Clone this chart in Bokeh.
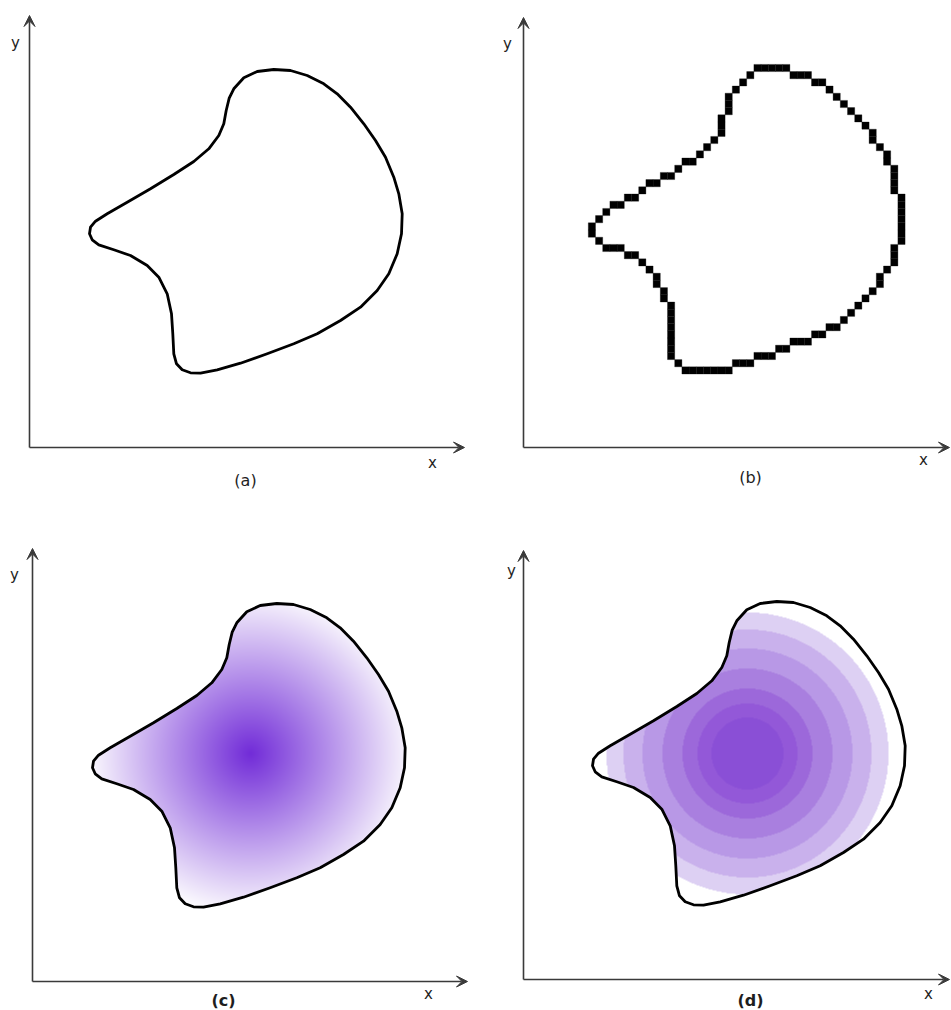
import numpy as np
from bokeh.plotting import figure
from bokeh.layouts import gridplot
from bokeh.models import Range1d, Arrow, VeeHead, Label
from bokeh.embed import file_html
from bokeh.resources import INLINE

# ---------------- data ----------------
# closed outline of the shape, in axis units (origin = where the axes cross)
shape_x = [204.3, 214.3, 227.7, 244.3, 261.0, 277.7, 294.3, 307.7, 321.0, 334.3,
           346.0, 356.0, 364.3, 369.3, 372.7, 372.0, 367.7, 359.3, 347.7, 331.0,
           311.0, 287.7, 264.3, 237.7, 211.0, 187.7, 171.0, 161.0, 152.7, 147.0,
           144.3, 143.3, 142.0, 137.7, 129.3, 117.7, 101.0, 84.3, 69.3, 62.7,
           60.0, 61.0, 66.0, 77.7, 97.7, 121.0, 144.3, 164.3, 179.3, 189.3,
           194.3, 196.7, 199.7]
shape_y = [358.7, 369.7, 376.0, 378.0, 377.0, 372.0, 363.7, 353.7, 340.3, 323.7,
           307.0, 290.3, 270.3, 253.7, 233.7, 213.7, 193.7, 173.7, 157.0, 140.3,
           127.0, 113.7, 103.7, 93.7, 84.3, 77.7, 74.3, 74.7, 77.7, 83.7,
           93.7, 113.7, 133.7, 153.7, 170.3, 182.0, 192.0, 197.7, 202.7, 207.7,
           213.7, 220.3, 226.3, 233.7, 245.3, 258.7, 273.0, 286.0, 298.7, 312.0,
           323.7, 337.0, 349.3]

panel_labels = ["(a)", "(b)", "(c)", "(d)"]
axis_names = ["x", "y"]

# (b) raster cell size
pixel_size = 7.2
# (c) radial gradient
gradient_center = (218, 228)
gradient_radius = 165
gradient_rgb = (114, 44, 216)
# (d) concentric bands
ring_center = (215, 226)
ring_edges = [36, 50, 65, 85, 105, 124, 141]
ring_colors = ["#8a4fd6", "#9358d8", "#9c68da", "#a97fdf", "#b898e6", "#c9b1ec", "#ddd0f3"]

# ---------------- layout ----------------
W = [475, 475]
H = [505, 504]
panels = [
    dict(xr=(-29, 446), yr=(-58, 447), shift=0, ytip=432, xtip=435,
         ylab=(-14, 405), xlab=(403, -15), plab=(216, -33), bold=False, kind="a"),
    dict(xr=(-48, 427), yr=(-58, 447), shift=5, ytip=430, xtip=426,
         ylab=(-16, 404), xlab=(400, -12), plab=(227, -30), bold=False, kind="b"),
    dict(xr=(-32, 443), yr=(-28, 476), shift=0, ytip=433, xtip=435,
         ylab=(-18, 407), xlab=(396, -12), plab=(191, -19), bold=True, kind="c"),
    dict(xr=(-48, 427), yr=(-30, 474), shift=9, ytip=429, xtip=426,
         ylab=(-12, 409), xlab=(405, -14), plab=(227, -21), bold=True, kind="d"),
]

FONT = "DejaVu Sans"
AXIS_COLOR = "#3a3a3a"
TEXT_COLOR = "#1e1e1e"


def inside_polygon(px, py, vx, vy):
    res = np.zeros(px.shape, dtype=bool)
    n = len(vx)
    j = n - 1
    for i in range(n):
        xi, yi, xj, yj = vx[i], vy[i], vx[j], vy[j]
        cond = ((yi > py) != (yj > py)) & (px < (xj - xi) * (py - yi) / (yj - yi + 1e-12) + xi)
        res ^= cond
        j = i
    return res


def hex_rgb(h):
    h = h.lstrip("#")
    return tuple(int(h[k:k + 2], 16) for k in (0, 2, 4))


def raster_cells(vx, vy, c, gy0):
    xs = list(vx) + [vx[0]]
    ys = list(vy) + [vy[0]]
    seq = []
    for k in range(len(xs) - 1):
        n = max(2, int(np.hypot(xs[k + 1] - xs[k], ys[k + 1] - ys[k]) / 0.4))
        for t in np.linspace(0, 1, n, endpoint=False):
            x = xs[k] + (xs[k + 1] - xs[k]) * t
            y = ys[k] + (ys[k + 1] - ys[k]) * t
            cell = (int(np.floor(x / c)), int(np.floor((y - gy0) / c)))
            if not seq or seq[-1] != cell:
                seq.append(cell)
    out = []
    for cell in seq:
        out.append(cell)
        while len(out) >= 3 and max(abs(out[-3][0] - out[-1][0]), abs(out[-3][1] - out[-1][1])) <= 1:
            del out[-2]
    return sorted(set(out))


figs = []
for idx, cfg in enumerate(panels):
    p = figure(width=W[idx % 2], height=H[idx // 2],
               x_range=Range1d(*cfg["xr"]), y_range=Range1d(*cfg["yr"]),
               output_backend="svg", toolbar_location=None,
               x_axis_location=None, y_axis_location=None,
               min_border=0, outline_line_color=None,
               background_fill_color="white", border_fill_color="white")
    p.grid.visible = False

    sx = [v + cfg["shift"] for v in shape_x]
    sy = list(shape_y)

    if cfg["kind"] in ("c", "d"):
        x0, y0, nx, ny = 40, 55, 350, 340
        gx, gy = np.meshgrid(np.arange(nx) + x0 + 0.5, np.arange(ny) + y0 + 0.5)
        mask = inside_polygon(gx, gy, np.array(sx), np.array(sy))
        img = np.zeros((ny, nx, 4), dtype=np.uint8)
        if cfg["kind"] == "c":
            cx, cy = gradient_center[0] + cfg["shift"], gradient_center[1]
            t = np.clip(np.hypot(gx - cx, gy - cy) / gradient_radius, 0, 1)
            for ch in range(3):
                img[..., ch] = (gradient_rgb[ch] * (1 - t) + 255 * t).astype(np.uint8)
            img[..., 3] = np.where(mask, 255, 0)
        else:
            cx, cy = ring_center[0] + cfg["shift"], ring_center[1]
            d = np.hypot(gx - cx, gy - cy)
            band = np.searchsorted(np.array(ring_edges), d)
            for b, col in enumerate(ring_colors):
                r, g, bl = hex_rgb(col)
                sel = band == b
                img[sel, 0] = r
                img[sel, 1] = g
                img[sel, 2] = bl
            img[..., 3] = np.where(mask & (d <= ring_edges[-1]), 255, 0)
        p.image_rgba(image=[img.view(dtype=np.uint32).reshape((ny, nx))],
                     x=x0, y=y0, dw=nx, dh=ny)

    if cfg["kind"] == "b":
        gy0 = 1.5
        cells = raster_cells(sx, sy, pixel_size, gy0)
        p.quad(left=[i * pixel_size for i, j in cells],
               right=[(i + 1) * pixel_size for i, j in cells],
               bottom=[j * pixel_size + gy0 for i, j in cells],
               top=[(j + 1) * pixel_size + gy0 for i, j in cells],
               fill_color="black", line_color="black", line_width=0.3)
    else:
        p.patch(sx + [sx[0]], sy + [sy[0]], fill_color=None, line_color="black",
                line_width=2.8, line_join="round")

    # axes with arrow heads
    p.add_layout(Arrow(x_start=0, y_start=0, x_end=0, y_end=cfg["ytip"],
                       line_color=AXIS_COLOR, line_width=1.6,
                       end=VeeHead(size=11, fill_color=AXIS_COLOR, line_color=AXIS_COLOR)))
    p.add_layout(Arrow(x_start=0, y_start=0, x_end=cfg["xtip"], y_end=0,
                       line_color=AXIS_COLOR, line_width=1.6,
                       end=VeeHead(size=11, fill_color=AXIS_COLOR, line_color=AXIS_COLOR)))

    for txt, pos, size, bold in [(axis_names[1], cfg["ylab"], "15px", False),
                                 (axis_names[0], cfg["xlab"], "15px", False),
                                 (panel_labels[idx], cfg["plab"], "16px", cfg["bold"])]:
        p.add_layout(Label(x=pos[0], y=pos[1], text=txt, text_align="center",
                           text_baseline="middle", text_font=FONT, text_font_size=size,
                           text_color=TEXT_COLOR,
                           text_font_style="bold" if bold else "normal"))
    figs.append(p)

grid = gridplot([[figs[0], figs[1]], [figs[2], figs[3]]], toolbar_location=None)

with open("out.html", "w") as f:
    f.write(file_html(grid, INLINE))
